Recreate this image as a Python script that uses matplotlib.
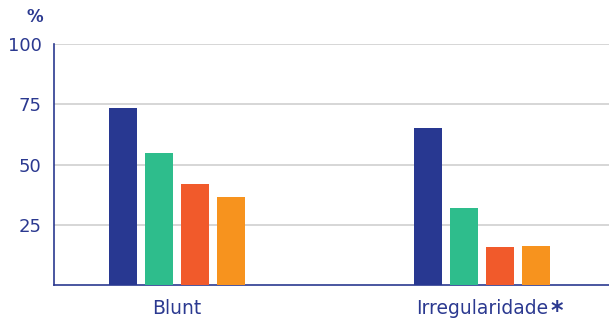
import numpy as np
import matplotlib
matplotlib.use("Agg")
import matplotlib.pyplot as plt

categories = ["Blunt", "Irregularidade"]
series_values = [
    [73.3, 65.1],
    [54.8, 32.0],
    [41.9, 15.8],
    [36.5, 16.2],
]
colors = ["#283891", "#2ebd8c", "#f15a2b", "#f7931e"]
yticks = [25, 50, 75, 100]

navy = "#2b3990"

plt.rcParams["font.family"] = ["DejaVu Sans"]

fig = plt.figure(figsize=(6.09, 3.22), dpi=100)
ax = fig.add_axes([54 / 609, 37 / 322, 1 - 54 / 609, 241 / 322])

x = np.arange(len(categories))
width = 28 / 305.5
step = 36 / 305.5
for i, (vals, c) in enumerate(zip(series_values, colors)):
    ax.bar(x + (i - 1.5) * step, vals, width=width, color=c, zorder=3)

ax.set_xlim(-122.5 / 305.5, 432.5 / 305.5)
ax.set_ylim(0, 100)
ax.set_yticks(yticks)
ax.set_yticklabels([str(v) for v in yticks])
ax.yaxis.grid(True, color="#d0d0d0", linewidth=1.2, zorder=0)
ax.set_xticks(x)
ax.set_xticklabels(categories, fontsize=13.5)

for s in ["top", "right"]:
    ax.spines[s].set_visible(False)
for s in ["left", "bottom"]:
    ax.spines[s].set_color(navy)
    ax.spines[s].set_linewidth(1.2)

ax.tick_params(axis="both", length=0, labelcolor=navy)
ax.tick_params(axis="y", pad=9, labelsize=13)
ax.tick_params(axis="x", pad=10)

# asterisk after second label
fig.canvas.draw()
lbl = ax.get_xticklabels()[1]
bb = lbl.get_window_extent()
fig.text((bb.x1 + 2) / 609, ((bb.y0 + bb.y1) / 2 - 3) / 322, "*", color=navy,
         fontsize=17, fontweight="bold", va="center", ha="left")

fig.text(35 / 609, 1 - 17 / 322, "%", color=navy, fontsize=12,
         fontweight="bold", ha="center", va="center")

fig.savefig("out.png", dpi=100)
